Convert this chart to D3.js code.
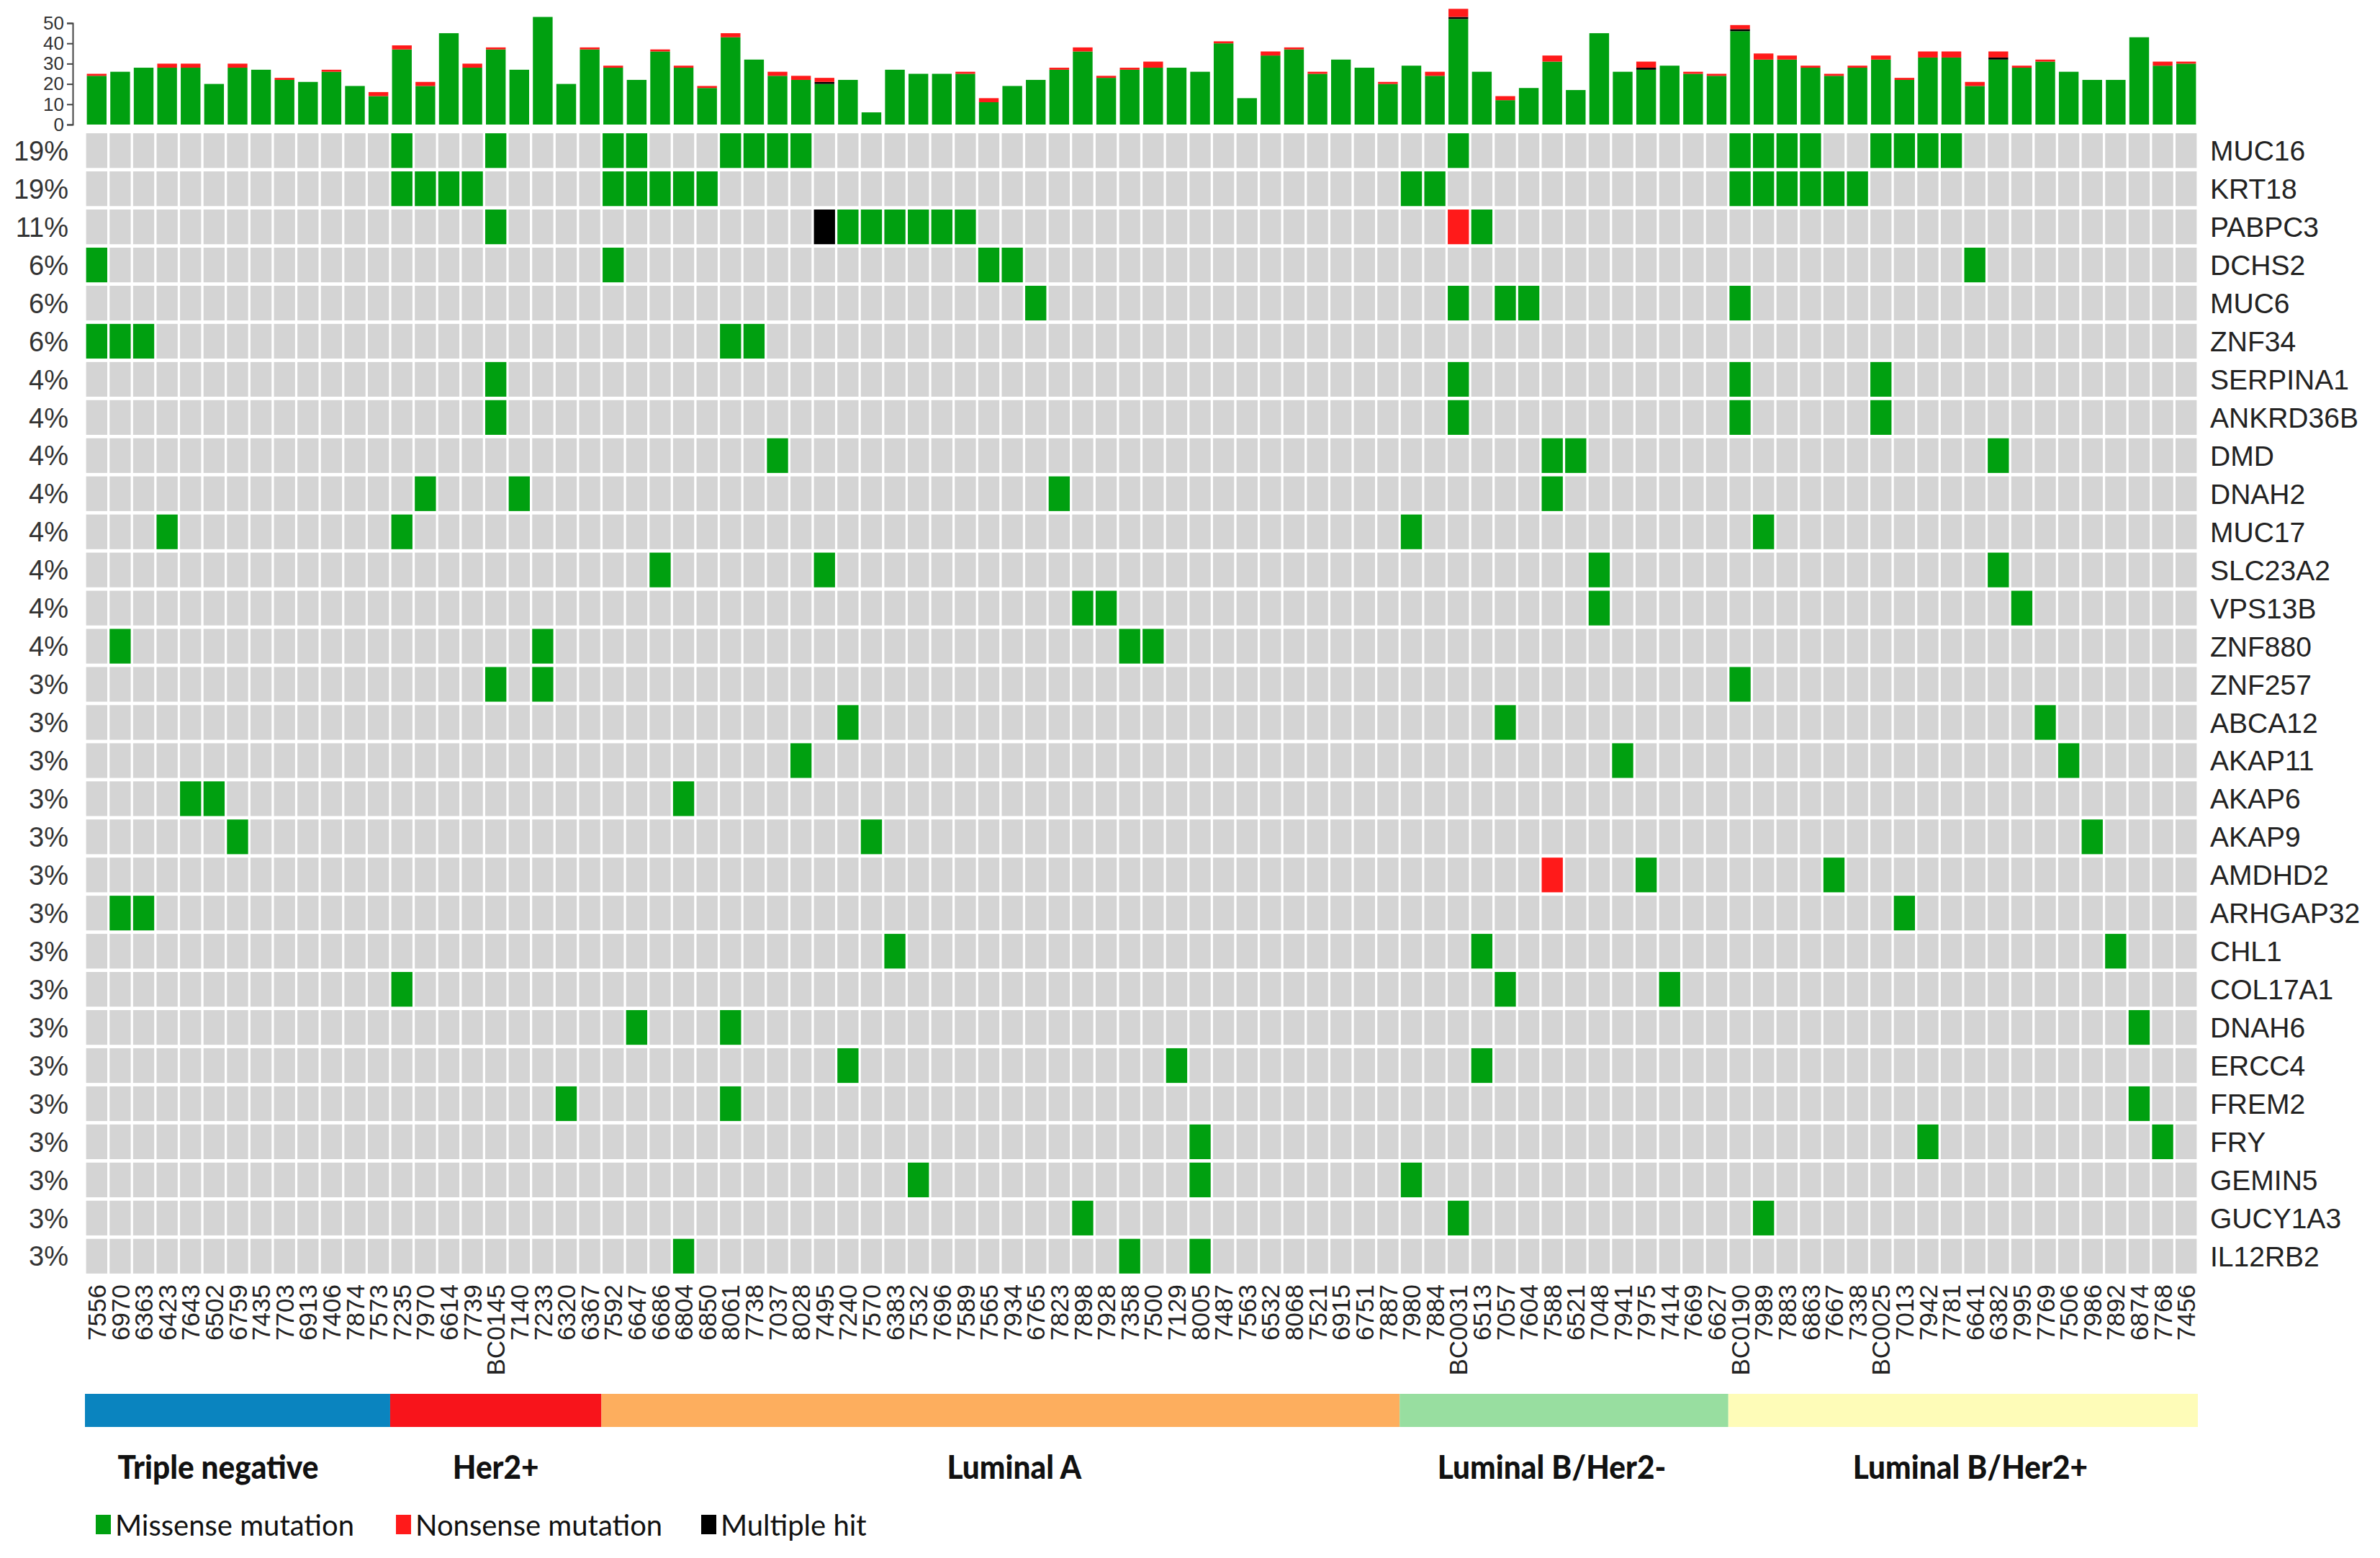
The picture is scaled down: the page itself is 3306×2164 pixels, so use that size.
<!DOCTYPE html>
<html>
<head>
<meta charset="utf-8">
<script src="https://cdn.jsdelivr.net/npm/d3@7"></script>
<style>
  body { margin: 0; background: #fff; }
  svg { display: block; }
</style>
</head>
<body>
<div id="chart"></div>
<script>
// sample ids, left to right
const samples = [
  "7556","6970","6363","6423","7643","6502","6759","7435","7703","6913","7406","7874","7573",
  "7235","7970","6614","7739","BC0145","7140","7233","6320","6367",
  "7592","6647","6686","6804","6850","8061","7738","7037","8028","7495","7240","7570","6383",
  "7532","7696","7589","7565","7934","6765","7823","7898","7928","7358","7500","7129","8005",
  "7487","7563","6532","8068","7521","6915","6751","7887",
  "7980","7884","BC0031","6513","7057","7604","7588","6521","7048","7941","7975","7414","7669","6627",
  "BC0190","7989","7883","6863","7667","7338","BC0025","7013","7942","7781","6641","6382","7995",
  "7769","7506","7986","7892","6874","7768","7456"
];

// per-sample mutation counts (top bar chart)
const missenseCounts = [
  24,26,28,28,28,20,28,27,22,21,26,19,14,
  37,19,45,28,37,27,53,20,37,
  28,22,36,28,18,43,32,24,22,20,22,6,27,
  25,25,25,11,19,22,27,36,23,27,28,28,26,
  40,13,34,37,25,32,28,20,
  29,24,52,26,12,18,31,17,45,26,27,29,25,24,
  46,32,32,28,24,28,32,22,33,33,19,32,28,
  31,26,22,22,43,29,30
];
const multipleCounts = [
  0,0,0,0,0,0,0,0,0,0,0,0,0,
  0,0,0,0,0,0,0,0,0,
  0,0,0,0,0,0,0,0,0,1,0,0,0,
  0,0,0,0,0,0,0,0,0,0,0,0,0,
  0,0,0,0,0,0,0,0,
  0,0,1,0,0,0,0,0,0,0,1,0,0,0,
  1,0,0,0,0,0,0,0,0,0,0,1,0,
  0,0,0,0,0,0,0
];
const nonsenseCounts = [
  1,0,0,2,2,0,2,0,1,0,1,0,2,
  2,2,0,2,1,0,0,0,1,
  1,0,1,1,1,2,0,2,2,2,0,0,0,
  0,0,1,2,0,0,1,2,1,1,3,0,0,
  1,0,2,1,1,0,0,1,
  0,2,4,0,2,0,3,0,0,0,3,0,1,1,
  2,3,2,1,1,1,2,1,3,3,2,3,1,
  1,0,0,0,0,2,1
];
const countTicks = [0, 10, 20, 30, 40, 50];

// gene rows
const genes = [
  "MUC16","KRT18","PABPC3","DCHS2","MUC6","ZNF34","SERPINA1","ANKRD36B","DMD","DNAH2",
  "MUC17","SLC23A2","VPS13B","ZNF880","ZNF257","ABCA12","AKAP11","AKAP6","AKAP9","AMDHD2",
  "ARHGAP32","CHL1","COL17A1","DNAH6","ERCC4","FREM2","FRY","GEMIN5","GUCY1A3","IL12RB2"
];
const genePercents = [
  "19%","19%","11%","6%","6%","6%","4%","4%","4%","4%",
  "4%","4%","4%","4%","3%","3%","3%","3%","3%","3%",
  "3%","3%","3%","3%","3%","3%","3%","3%","3%","3%"
];

// missense hits, one list of samples per gene (same order as genes)
const missenseHits = [
  ["7235","BC0145","7592","6647","8061","7738","7037","8028","BC0031","BC0190","7989","7883","6863","BC0025","7013","7942","7781"],
  ["7235","7970","6614","7739","7592","6647","6686","6804","6850","7980","7884","BC0190","7989","7883","6863","7667","7338"],
  ["BC0145","7240","7570","6383","7532","7696","7589","6513"],
  ["7556","7592","7565","7934","6641"],
  ["6765","BC0031","7057","7604","BC0190"],
  ["7556","6970","6363","8061","7738"],
  ["BC0145","BC0031","BC0190","BC0025"],
  ["BC0145","BC0031","BC0190","BC0025"],
  ["7037","7588","6521","6382"],
  ["7970","7140","7823","7588"],
  ["6423","7235","7980","7989"],
  ["6686","7495","7048","6382"],
  ["7898","7928","7048","7995"],
  ["6970","7233","7358","7500"],
  ["BC0145","7233","BC0190"],
  ["7240","7057","7769"],
  ["8028","7941","7506"],
  ["7643","6502","6804"],
  ["6759","7570","7986"],
  ["7975","7667"],
  ["6970","6363","7013"],
  ["6383","6513","7892"],
  ["7235","7057","7414"],
  ["6647","8061","6874"],
  ["7240","7129","6513"],
  ["6320","8061","6874"],
  ["8005","7942","7768"],
  ["7532","8005","7980"],
  ["7898","BC0031","7989"],
  ["6804","7358","8005"]
];
const nonsenseHits = [["PABPC3", "BC0031"], ["AMDHD2", "7588"]];
const multipleHits = [["PABPC3", "7495"]];

// subtype strip
const subtypes = ["Triple negative", "Her2+", "Luminal A", "Luminal B/Her2-", "Luminal B/Her2+"];
const subtypeSizes = [13, 9, 34, 14, 20];
const subtypeColors = ["#0a84bf", "#f8141b", "#fdae5e", "#98dea0", "#fefcb8"];

const legendLabels = ["Missense mutation", "Nonsense mutation", "Multiple hit"];

const GREEN = "#00a010", RED = "#ff1a1a", BLACK = "#000000", GREY = "#d4d4d4";

const W = 3306, H = 2164;
const left = 118, right = 3053;

const svg = d3.select("#chart").append("svg")
  .attr("width", W).attr("height", H)
  .style("font-family", "'Liberation Sans', Arial, sans-serif");

// column scales
const xCell = d3.scaleBand().domain(samples).range([left, right]).paddingInner(0.1).paddingOuter(0.05);
const xBar = d3.scaleBand().domain(samples).range([left, right]).paddingInner(0.16).paddingOuter(0.08);

// ---- top stacked bars
const y = d3.scaleLinear().domain([0, 50]).range([173, 32]);

const barRows = samples.map((s, i) => ({
  sample: s,
  missense: missenseCounts[i],
  multiple: multipleCounts[i],
  nonsense: nonsenseCounts[i],
}));
const stacked = d3.stack().keys(["missense", "multiple", "nonsense"])(barRows);
const barColor = { missense: GREEN, multiple: BLACK, nonsense: RED };

svg.append("g").selectAll("g")
  .data(stacked)
  .join("g")
  .attr("fill", (d) => barColor[d.key])
  .selectAll("rect")
  .data((d) => d.filter((p) => p[1] > p[0]))
  .join("rect")
  .attr("x", (d) => xBar(d.data.sample))
  .attr("width", xBar.bandwidth())
  .attr("y", (d) => y(d[1]))
  .attr("height", (d) => y(d[0]) - y(d[1]));

const yAxis = svg.append("g")
  .attr("transform", "translate(101,0)")
  .call(d3.axisLeft(y).tickValues(countTicks).tickSize(8).tickPadding(4));
yAxis.select(".domain").attr("stroke", "#444").attr("stroke-width", 2);
yAxis.selectAll(".tick line").attr("stroke", "#444").attr("stroke-width", 2);
yAxis.selectAll(".tick text")
  .attr("font-size", 26)
  .attr("fill", "#333");

// ---- mutation grid
const yRow = d3.scaleBand().domain(genes).range([183, 1771]).paddingInner(0.09).paddingOuter(0.04);

const hitType = new Map();
genes.forEach((g, gi) => missenseHits[gi].forEach((s) => hitType.set(g + "|" + s, GREEN)));
nonsenseHits.forEach(([g, s]) => hitType.set(g + "|" + s, RED));
multipleHits.forEach(([g, s]) => hitType.set(g + "|" + s, BLACK));

const cells = genes.flatMap((g) => samples.map((s) => ({ gene: g, sample: s })));

svg.append("g").selectAll("rect")
  .data(cells)
  .join("rect")
  .attr("x", (d) => xCell(d.sample))
  .attr("y", (d) => yRow(d.gene))
  .attr("width", xCell.bandwidth())
  .attr("height", yRow.bandwidth())
  .attr("fill", (d) => hitType.get(d.gene + "|" + d.sample) || GREY);

// percent labels (left)
svg.append("g").selectAll("text")
  .data(genes)
  .join("text")
  .attr("x", 95)
  .attr("y", (d) => yRow(d) + yRow.bandwidth() / 2)
  .attr("dy", "0.36em")
  .attr("text-anchor", "end")
  .attr("font-size", 38)
  .attr("fill", "#333")
  .text((d, i) => genePercents[i]);

// gene names (right)
svg.append("g").selectAll("text")
  .data(genes)
  .join("text")
  .attr("x", 3070)
  .attr("y", (d) => yRow(d) + yRow.bandwidth() / 2)
  .attr("dy", "0.36em")
  .attr("font-size", 39)
  .attr("fill", "#222")
  .text((d) => d);

// sample labels (rotated)
svg.append("g").selectAll("text")
  .data(samples)
  .join("text")
  .attr("transform", (d) => `translate(${xCell(d) + xCell.bandwidth() / 2},1784) rotate(-90)`)
  .attr("dy", "0.36em")
  .attr("text-anchor", "end")
  .attr("font-size", 35)
  .attr("fill", "#222")
  .text((d) => d);

// ---- subtype strip
const starts = d3.cumsum([0, ...subtypeSizes]);
const groups = subtypes.map((name, i) => ({
  name,
  color: subtypeColors[i],
  from: starts[i],
  to: starts[i + 1],
}));
const xEdge = d3.scaleLinear().domain([0, samples.length]).range([left, right]);
const labelShift = [-27, 0, 19, -17, 10];

svg.append("g").selectAll("rect")
  .data(groups)
  .join("rect")
  .attr("x", (d) => xEdge(d.from))
  .attr("width", (d) => xEdge(d.to) - xEdge(d.from))
  .attr("y", 1936)
  .attr("height", 46)
  .attr("fill", (d) => d.color);

svg.append("g").selectAll("text")
  .data(groups)
  .join("text")
  .attr("transform", (d, i) => `translate(${(xEdge(d.from) + xEdge(d.to)) / 2 + labelShift[i]},2054) scale(0.92,1)`)
  .attr("text-anchor", "middle")
  .attr("font-family", "Lato, 'Open Sans', sans-serif")
  .attr("font-weight", 900)
  .attr("font-size", 46)
  .attr("fill", "#111")
  .text((d) => d.name);

// ---- legend
const legendX = [133, 550, 974];
const legendColors = [GREEN, RED, BLACK];
const leg = svg.append("g").selectAll("g")
  .data(legendLabels)
  .join("g")
  .attr("transform", (d, i) => `translate(${legendX[i]},2104)`);
leg.append("rect")
  .attr("width", 21).attr("height", 27)
  .attr("fill", (d, i) => legendColors[i]);
leg.append("text")
  .attr("transform", "translate(27,29)")
  .attr("font-family", "Lato, 'Open Sans', sans-serif")
  .attr("font-size", 40)
  .attr("fill", "#111")
  .text((d) => d);
</script>
</body>
</html>
